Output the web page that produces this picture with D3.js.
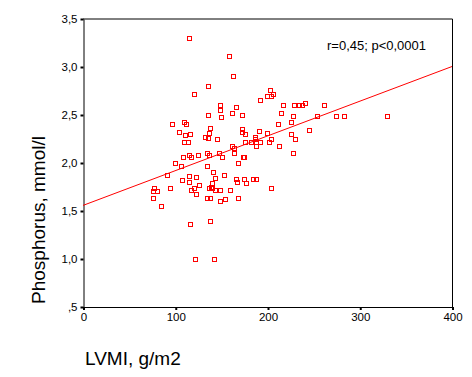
<!DOCTYPE html>
<html>
<head>
<meta charset="utf-8">
<script src="https://cdn.jsdelivr.net/npm/d3@7"></script>
<style>
  body { margin: 0; background: #fff; }
  text { font-family: Arial, "Liberation Sans", sans-serif; }
</style>
</head>
<body>
<div id="container"></div>
<script>
let w = 472;
let h = 377;

// LVMI (g/m2)
let lvmi = [115, 158, 163, 136, 120, 192, 203, 199, 204, 206,
  149, 148, 217, 229, 234, 237, 241, 261, 166, 161,
  172, 215, 228, 254, 274, 283, 329, 225, 211, 245,
  191, 172, 172, 176, 199, 226, 230, 204, 186, 186,
  176, 182, 188, 192, 202, 188, 213, 161, 164, 164,
  228, 173, 175, 168, 166, 167, 175, 177, 184, 188,
  204, 136, 150, 97, 109, 112, 104, 111, 116, 138,
  137, 132, 136, 145, 110, 114, 115, 117, 125, 108,
  134, 137, 147, 151, 100, 106, 134, 91, 141, 153,
  107, 115, 115, 123, 143, 140, 126, 139, 137, 140,
  143, 148, 159, 94, 117, 120, 122, 77, 80, 76,
  76, 134, 138, 154, 168, 85, 148, 116, 138, 121, 142];

// phosphorus (mmol/l)
let phosphorus = [3.30, 3.11, 2.90, 2.80, 2.71, 2.65, 2.76, 2.69, 2.69, 2.71,
  2.60, 2.55, 2.60, 2.60, 2.60, 2.60, 2.62, 2.60, 2.58, 2.52,
  2.49, 2.52, 2.48, 2.48, 2.48, 2.48, 2.48, 2.42, 2.40, 2.34,
  2.33, 2.35, 2.32, 2.30, 2.31, 2.30, 2.25, 2.25, 2.27, 2.25,
  2.21, 2.21, 2.21, 2.21, 2.21, 2.17, 2.17, 2.17, 2.15, 2.10,
  2.10, 2.06, 2.06, 1.99, 1.83, 1.80, 1.83, 1.79, 1.83, 1.83,
  1.73, 2.50, 2.47, 2.40, 2.42, 2.40, 2.32, 2.29, 2.30, 2.36,
  2.31, 2.27, 2.26, 2.25, 2.21, 2.21, 2.08, 2.06, 2.08, 2.06,
  2.10, 2.08, 2.10, 2.06, 2.00, 1.96, 1.96, 1.87, 1.90, 1.87,
  1.82, 1.86, 1.80, 1.85, 1.84, 1.79, 1.77, 1.75, 1.73, 1.73,
  1.71, 1.71, 1.71, 1.73, 1.71, 1.73, 1.67, 1.73, 1.70, 1.70,
  1.63, 1.63, 1.63, 1.62, 1.63, 1.55, 1.60, 1.36, 1.39, 1.00, 1.00];

// fit line end points
let fitX = [0, 400];
let fitY = [1.553, 3.0];

let xTicks = [0, 100, 200, 300, 400];
let yTicks = [0.5, 1.0, 1.5, 2.0, 2.5, 3.0, 3.5];

let note = 'r=0,45; p<0,0001';
let xTitle = 'LVMI, g/m2';
let yTitle = 'Phosphorus, mmol/l';

let red = '#ff0000';

let viz = d3.select('#container')
  .append('svg')
    .attr('width', w)
    .attr('height', h)
    .style('background-color', 'white')
  ;

let xScale = d3.scaleLinear().domain([0, 400]).range([83, 452]);
let yScale = d3.scaleLinear().domain([0.5, 3.5]).range([306.5, 18.5]);

// frame (top + right)
viz.append('path')
  .attr('d', 'M' + xScale(0) + ',' + (yScale(3.5) + 0.5) + 'H' + (xScale(400) + 0.5) + 'V' + (yScale(0.5) + 0.5))
  .attr('fill', 'none')
  .attr('stroke', 'black')
  .attr('stroke-width', 1);

function fmt(d){
  let s = d3.format('.1f')(d).replace('.', ',');
  if(s.indexOf('0,') == 0){ s = s.slice(1); }
  return s;
}

let xAxis = d3.axisBottom(xScale).tickValues(xTicks).tickSize(3).tickSizeOuter(0).tickPadding(3);
let xAxisGroup = viz.append('g').attr('class', 'xaxis')
  .attr('transform', 'translate(0.5, ' + (yScale(0.5) + 0.5) + ')')
  .call(xAxis);

let yAxis = d3.axisLeft(yScale).tickValues(yTicks).tickFormat(fmt).tickSize(3).tickSizeOuter(0).tickPadding(3);
let yAxisGroup = viz.append('g').attr('class', 'yaxis')
  .attr('transform', 'translate(' + (xScale(0) + 0.5) + ', 0.5)')
  .call(yAxis);

viz.selectAll('.xaxis, .yaxis').selectAll('.domain').attr('stroke', 'black');
viz.selectAll('.xaxis line, .yaxis line').attr('stroke', 'black').attr('stroke-width', 2);
viz.selectAll('.xaxis text, .yaxis text')
  .attr('font-size', '11.5px')
  .attr('fill', 'black')
  .style('font-family', 'Arial, "Liberation Sans", sans-serif');

// regression line
let fitData = fitX.map(function(d, i){ return {x: d, y: fitY[i]}; });
viz.append('path')
  .datum(fitData)
  .attr('d', d3.line().x(function(d){ return xScale(d.x); }).y(function(d){ return yScale(d.y); }))
  .attr('fill', 'none')
  .attr('stroke', red)
  .attr('stroke-width', 1);

// points
let points = lvmi.map(function(d, i){ return {x: d, y: phosphorus[i]}; });
viz.selectAll('.pt').data(points).enter()
  .append('rect')
    .attr('class', 'pt')
    .attr('x', function(d){ return Math.round(xScale(d.x)) - 2 + 0.5; })
    .attr('y', function(d){ return Math.round(yScale(d.y)) - 2 + 0.5; })
    .attr('width', 4)
    .attr('height', 4)
    .attr('fill', 'none')
    .attr('stroke', red)
    .attr('stroke-width', 1);

viz.append('text')
  .attr('x', 327)
  .attr('y', 50)
  .attr('font-size', '13px')
  .text(note);

viz.append('text')
  .attr('x', 85)
  .attr('y', 365)
  .attr('font-size', '19px')
  .text(xTitle);

viz.append('text')
  .attr('transform', 'translate(45, 220) rotate(-90)')
  .attr('text-anchor', 'middle')
  .attr('font-size', '19px')
  .text(yTitle);
</script>
</body>
</html>
